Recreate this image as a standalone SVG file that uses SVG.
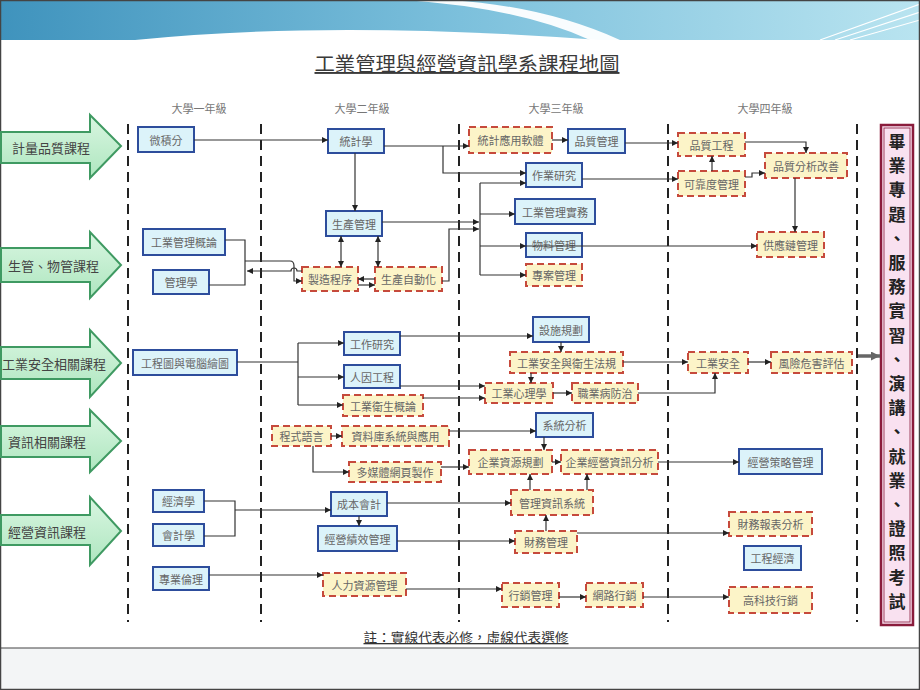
<svg xmlns="http://www.w3.org/2000/svg" width="920" height="690" viewBox="0 0 920 690">
<defs>
<linearGradient id="hdr" x1="0" y1="0" x2="1" y2="0">
<stop offset="0" stop-color="#3f93bd"/><stop offset="0.5" stop-color="#7cc0dc"/><stop offset="1" stop-color="#b9e4f0"/>
</linearGradient>
<linearGradient id="grn" x1="0" y1="0" x2="0" y2="1">
<stop offset="0" stop-color="#d9f6e1"/><stop offset="1" stop-color="#aee6bf"/>
</linearGradient>
<marker id="a" viewBox="0 0 8 8" refX="8" refY="4" markerWidth="7" markerHeight="6" markerUnits="userSpaceOnUse" orient="auto-start-reverse">
<path d="M0,0 L8,4 L0,8 z" fill="#222"/>
</marker>
<marker id="ag" viewBox="0 0 8 8" refX="8" refY="4" markerWidth="10" markerHeight="9" markerUnits="userSpaceOnUse" orient="auto">
<path d="M0,0 L8,4 L0,8 z" fill="#666"/>
</marker>
<style>
.req rect{fill:#dcf3fa;stroke:#2d4d9c;stroke-width:2}
.opt rect{fill:#fcf4c8;stroke:#c64a3c;stroke-width:2;stroke-dasharray:7 4}
.req text,.opt text{font-family:"Noto Sans CJK TC","Liberation Sans",sans-serif;font-size:11px;fill:#666;text-anchor:middle;dominant-baseline:central}
.yr{font-family:"Noto Sans CJK TC",sans-serif;font-size:11px;fill:#777;text-anchor:middle}
.col{stroke:#222;stroke-width:2;stroke-dasharray:10 6;fill:none}
#connectors path{fill:none;stroke:#333;stroke-width:1.2}
.ar path{marker-end:url(#a)}
.cat polygon{fill:url(#grn);stroke:#3f9a62;stroke-width:2}
.cat text{font-family:"Noto Sans CJK TC",sans-serif;font-size:13px;fill:#444;dominant-baseline:central}
</style>
</defs>

<rect x="0" y="0" width="920" height="690" fill="#ffffff"/>
<!-- header band -->
<rect x="0" y="0" width="920" height="40" fill="url(#hdr)"/>
<path d="M135,40 Q330,20 600,40 Z" fill="#ffffff"/>
<path d="M405,0 Q520,8 590,40 L620,40 Q545,6 450,0 Z" fill="#ffffff" opacity="0.95"/>
<path d="M820,40 L920,4 M835,40 L920,12 M850,40 L920,20" stroke="#ffffff" stroke-width="1.2" fill="none"/>
<!-- bottom band -->
<rect x="0.5" y="648" width="919" height="41.5" fill="#f3f5f6" stroke="#444" stroke-width="1"/>
<rect x="0.5" y="0.5" width="919" height="689" fill="none" stroke="#444" stroke-width="1.5"/>

<!-- title -->
<text x="467" y="71" font-family="Noto Sans CJK TC,sans-serif" font-size="19" fill="#3a3a3a" text-anchor="middle" text-decoration="underline" textLength="305" lengthAdjust="spacingAndGlyphs">工業管理與經營資訊學系課程地圖</text>
<text class="yr" x="199" y="113">大學一年級</text>
<text class="yr" x="362" y="113">大學二年級</text>
<text class="yr" x="556" y="113">大學三年級</text>
<text class="yr" x="765" y="113">大學四年級</text>
<text x="466" y="642" font-family="Noto Sans CJK TC,sans-serif" font-size="13" fill="#333" text-anchor="middle" text-decoration="underline" textLength="205" lengthAdjust="spacingAndGlyphs">註：實線代表必修，虛線代表選修</text>

<!-- column separators -->
<g id="columns">
<path class="col" d="M128,124 V622"/>
<path class="col" d="M261,124 V622"/>
<path class="col" d="M459,124 V622"/>
<path class="col" d="M668,124 V622"/>
<path class="col" d="M857,124 V622"/>
</g>

<!-- category arrows -->
<g id="cat1" class="cat"><polygon points="1,132 90,132 90,115 121,146 90,178 90,163 1,163"/><text x="12" y="147">計量品質課程</text></g>
<g id="cat2" class="cat"><polygon points="1,248 90,248 90,232 121,265 90,298 90,282 1,282"/><text x="8" y="265">生管、物管課程</text></g>
<g id="cat3" class="cat"><polygon points="1,347 90,347 90,330 121,363 90,397 90,379 1,379"/><text x="2" y="363">工業安全相關課程</text></g>
<g id="cat4" class="cat"><polygon points="1,426 90,426 90,410 121,441 90,472 90,457 1,457"/><text x="8" y="441">資訊相關課程</text></g>
<g id="cat5" class="cat"><polygon points="1,515 90,515 90,497 121,531 90,565 90,545 1,545"/><text x="8" y="531">經營資訊課程</text></g>

<!-- outcome box -->
<g id="outcome">
<rect x="881" y="125" width="32" height="500" fill="#f9e1f0" stroke="#8a1c3c" stroke-width="2.5"/>
<rect x="884" y="128" width="26" height="494" fill="none" stroke="#8a1c3c" stroke-width="0.8"/>
<g font-family="Noto Sans CJK TC,sans-serif" font-size="17" font-weight="bold" fill="#222" text-anchor="middle" dominant-baseline="central">
<text x="897" y="140">畢</text><text x="897" y="164">業</text><text x="897" y="188">專</text><text x="897" y="213">題</text><text x="897" y="237">、</text><text x="897" y="261">服</text><text x="897" y="285">務</text><text x="897" y="309">實</text><text x="897" y="334">習</text><text x="897" y="358">、</text><text x="897" y="382">演</text><text x="897" y="406">講</text><text x="897" y="430">、</text><text x="897" y="455">就</text><text x="897" y="479">業</text><text x="897" y="503">、</text><text x="897" y="527">證</text><text x="897" y="551">照</text><text x="897" y="576">考</text><text x="897" y="600">試</text>
</g>
</g>

<!-- nodes -->
<g id="n-calculus" class="req"><rect x="138" y="127" width="56" height="25"/><text x="166" y="139.5">微積分</text></g>
<g id="n-imintro" class="req"><rect x="143" y="229" width="82" height="26"/><text x="184" y="242">工業管理概論</text></g>
<g id="n-mgmt" class="req"><rect x="153" y="270" width="56" height="24"/><text x="181" y="282">管理學</text></g>
<g id="n-drawing" class="req"><rect x="133" y="350" width="104" height="25"/><text x="185" y="362.5">工程圖與電腦繪圖</text></g>
<g id="n-econ" class="req"><rect x="153" y="490" width="51" height="22"/><text x="178.5" y="501">經濟學</text></g>
<g id="n-acct" class="req"><rect x="153" y="524" width="51" height="22"/><text x="178.5" y="535">會計學</text></g>
<g id="n-ethics" class="req"><rect x="153" y="567" width="56" height="23"/><text x="181" y="578.5">專業倫理</text></g>
<g id="n-stats" class="req"><rect x="328" y="129" width="56" height="24"/><text x="356" y="141">統計學</text></g>
<g id="n-prodmgmt" class="req"><rect x="326" y="211" width="56" height="25"/><text x="354" y="223.5">生產管理</text></g>
<g id="n-mfg" class="opt"><rect x="302" y="267" width="56" height="24"/><text x="330" y="279">製造程序</text></g>
<g id="n-auto" class="opt"><rect x="375" y="267" width="67" height="24"/><text x="408.5" y="279">生產自動化</text></g>
<g id="n-workstudy" class="req"><rect x="344" y="332" width="56" height="23"/><text x="372" y="343.5">工作研究</text></g>
<g id="n-ergo" class="req"><rect x="344" y="365" width="56" height="23"/><text x="372" y="376.5">人因工程</text></g>
<g id="n-hygiene" class="opt"><rect x="343" y="395" width="80" height="21"/><text x="383" y="405.5">工業衛生概論</text></g>
<g id="n-prog" class="opt"><rect x="272" y="426" width="59" height="20"/><text x="301.5" y="436">程式語言</text></g>
<g id="n-db" class="opt"><rect x="342" y="426" width="107" height="20"/><text x="395.5" y="436">資料庫系統與應用</text></g>
<g id="n-web" class="opt"><rect x="349" y="462" width="92" height="20"/><text x="395" y="472">多媒體網頁製作</text></g>
<g id="n-costacct" class="req"><rect x="331" y="492" width="56" height="24"/><text x="359" y="504">成本會計</text></g>
<g id="n-perf" class="req"><rect x="318" y="526" width="79" height="25"/><text x="357.5" y="538.5">經營績效管理</text></g>
<g id="n-hr" class="opt"><rect x="323" y="573" width="83" height="23"/><text x="364.5" y="584.5">人力資源管理</text></g>
<g id="n-statsw" class="opt"><rect x="469" y="127" width="83" height="26"/><text x="510.5" y="140">統計應用軟體</text></g>
<g id="n-qm" class="req"><rect x="568" y="129" width="57" height="24"/><text x="596.5" y="141">品質管理</text></g>
<g id="n-or" class="req"><rect x="526" y="163" width="56" height="24"/><text x="554" y="175">作業研究</text></g>
<g id="n-impractice" class="req"><rect x="515" y="199" width="80" height="25"/><text x="555" y="211.5">工業管理實務</text></g>
<g id="n-material" class="req"><rect x="526" y="233" width="56" height="24"/><text x="554" y="245">物料管理</text></g>
<g id="n-project" class="opt"><rect x="526" y="264" width="56" height="22"/><text x="554" y="275">專案管理</text></g>
<g id="n-facility" class="req"><rect x="533" y="317" width="56" height="25"/><text x="561" y="329.5">設施規劃</text></g>
<g id="n-safetylaw" class="opt"><rect x="510" y="352" width="113" height="21"/><text x="566.5" y="362.5">工業安全與衛生法規</text></g>
<g id="n-psych" class="opt"><rect x="485" y="383" width="68" height="20"/><text x="519" y="393">工業心理學</text></g>
<g id="n-occdis" class="opt"><rect x="572" y="383" width="66" height="20"/><text x="605" y="393">職業病防治</text></g>
<g id="n-sysan" class="req"><rect x="536" y="413" width="57" height="24"/><text x="564.5" y="425">系統分析</text></g>
<g id="n-erp" class="opt"><rect x="469" y="450" width="83" height="24"/><text x="510.5" y="462">企業資源規劃</text></g>
<g id="n-bi" class="opt"><rect x="561" y="450" width="97" height="24"/><text x="609.5" y="462">企業經營資訊分析</text></g>
<g id="n-mis" class="opt"><rect x="511" y="490" width="82" height="25"/><text x="552" y="502.5">管理資訊系統</text></g>
<g id="n-finance" class="opt"><rect x="515" y="531" width="62" height="22"/><text x="546" y="542">財務管理</text></g>
<g id="n-marketing" class="opt"><rect x="502" y="583" width="57" height="24"/><text x="530.5" y="595">行銷管理</text></g>
<g id="n-emarketing" class="opt"><rect x="586" y="583" width="57" height="24"/><text x="614.5" y="595">網路行銷</text></g>
<g id="n-qe" class="opt"><rect x="678" y="133" width="67" height="23"/><text x="711.5" y="144.5">品質工程</text></g>
<g id="n-reliab" class="opt"><rect x="678" y="171" width="67" height="25"/><text x="711.5" y="183.5">可靠度管理</text></g>
<g id="n-qa" class="opt"><rect x="765" y="153" width="82" height="25"/><text x="806" y="165.5">品質分析改善</text></g>
<g id="n-scm" class="opt"><rect x="757" y="232" width="67" height="25"/><text x="790.5" y="244.5">供應鏈管理</text></g>
<g id="n-safety" class="opt"><rect x="688" y="352" width="60" height="21"/><text x="718" y="362.5">工業安全</text></g>
<g id="n-risk" class="opt"><rect x="771" y="352" width="81" height="21"/><text x="811.5" y="362.5">風險危害評估</text></g>
<g id="n-strategy" class="req"><rect x="739" y="449" width="83" height="25"/><text x="780.5" y="461.5">經營策略管理</text></g>
<g id="n-fsa" class="opt"><rect x="729" y="512" width="83" height="24"/><text x="770.5" y="524">財務報表分析</text></g>
<g id="n-engecon" class="req"><rect x="744" y="546" width="57" height="24"/><text x="772.5" y="558">工程經濟</text></g>
<g id="n-hitech" class="opt"><rect x="729" y="587" width="83" height="26"/><text x="770.5" y="600">高科技行銷</text></g>

<!-- connectors -->
<g id="connectors">
<g class="ar">
<path d="M194,140 H328"/>
<path d="M384,146 H469"/>
<path d="M443,146 V173 H526"/>
<path d="M552,140 H568"/>
<path d="M625,143 H678"/>
<path d="M745,142 H806 V153"/>
<path d="M712,171 V156"/>
<path d="M745,177 H752 V173 H765"/>
<path d="M582,179 H678"/>
<path d="M795,178 V232"/>
<path d="M355,153 V211"/>
<path d="M382,222 H479"/>
<path d="M442,281 H449 V229 H479"/>
<path d="M480,183 H526"/>
<path d="M480,214 H515"/>
<path d="M480,246 H526"/>
<path d="M526,246 H757"/>
<path d="M480,275 H526"/>
<path d="M375,279 H358"/>
<path d="M358,285 H375"/>
<path d="M245,261 H290 Q294,261 294,266 V281 H302"/>
<path d="M302,271 H297 A3,3 0 0 0 291,271 H247"/>
<path d="M298,343 H344"/>
<path d="M298,377 H344"/>
<path d="M298,405 H343"/>
<path d="M400,336 H533"/>
<path d="M561,342 V352"/>
<path d="M531,373 V383"/>
<path d="M400,386 H485"/>
<path d="M423,398 H485"/>
<path d="M553,393 H572"/>
<path d="M638,393 H715 V373"/>
<path d="M623,362 H688"/>
<path d="M748,362 H771"/>
<path d="M331,436 H342"/>
<path d="M313,446 V472 H349"/>
<path d="M449,431 H536"/>
<path d="M544,437 V450"/>
<path d="M441,467 H469"/>
<path d="M552,462 H561"/>
<path d="M658,462 H739"/>
<path d="M530,490 V474"/>
<path d="M587,490 V474"/>
<path d="M546,531 V515"/>
<path d="M387,503 H511"/>
<path d="M359,516 V526"/>
<path d="M397,541 H515"/>
<path d="M235,510 H331"/>
<path d="M577,533 H729"/>
<path d="M209,575 H323"/>
<path d="M406,589 H502"/>
<path d="M559,597 H586"/>
<path d="M643,597 H729"/>
</g>
<path d="M341,236 V267" marker-start="url(#a)" marker-end="url(#a)"/>
<path d="M378,236 V267" marker-start="url(#a)" marker-end="url(#a)"/>
<path d="M480,183 V275"/>
<path d="M225,240 H245 V285 H209"/>
<path d="M237,362 H298 M298,343 V405"/>
<path d="M204,501 H235 V536 H204"/>
<path d="M858,356 H880" style="stroke:#666;stroke-width:3.5" marker-end="url(#ag)"/>
</g>
</svg>
